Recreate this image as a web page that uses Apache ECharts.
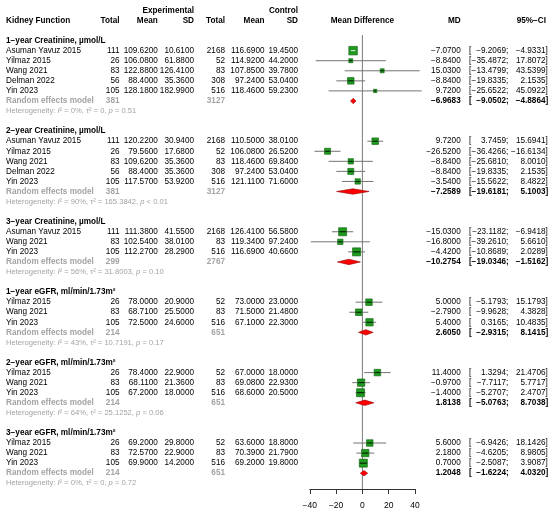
<!DOCTYPE html>
<html>
<head>
<meta charset="utf-8">
<script src="https://cdn.jsdelivr.net/npm/echarts@6/dist/echarts.min.js"></script>
<style>
html,body{margin:0;padding:0;background:#fff;}
#main{width:550px;height:514px;}
</style>
</head>
<body>
<div id="main"></div>
<script>
// ---- data ----
var groupTitles = ['1−year Creatinine, µmol/L', '2−year Creatinine, µmol/L', '3−year Creatinine, µmol/L',
	'1−year eGFR, ml/min/1.73m²', '2−year eGFR, ml/min/1.73m²', '3−year eGFR, ml/min/1.73m²'];
var studyNames = [
	['Asuman Yavuz 2015', 'Yilmaz 2015', 'Wang 2021', 'Delman 2022', 'Yin 2023'],
	['Asuman Yavuz 2015', 'Yilmaz 2015', 'Wang 2021', 'Delman 2022', 'Yin 2023'],
	['Asuman Yavuz 2015', 'Wang 2021', 'Yin 2023'],
	['Yilmaz 2015', 'Wang 2021', 'Yin 2023'],
	['Yilmaz 2015', 'Wang 2021', 'Yin 2023'],
	['Yilmaz 2015', 'Wang 2021', 'Yin 2023']
];
var expTotal = [[111, 26, 83, 56, 105], [111, 26, 83, 56, 105], [111, 83, 105], [26, 83, 105], [26, 83, 105], [26, 83, 105]];
var expMean = [
	[109.62, 106.08, 122.88, 88.40, 128.18],
	[120.22, 79.56, 109.62, 88.40, 117.57],
	[111.38, 102.54, 112.27],
	[78.00, 68.71, 72.50],
	[78.40, 68.11, 67.20],
	[69.20, 72.57, 69.90]
];
var expSD = [
	[10.61, 61.88, 126.41, 35.36, 182.99],
	[30.94, 17.68, 35.36, 35.36, 53.92],
	[41.55, 38.01, 28.29],
	[20.90, 25.50, 24.60],
	[22.90, 21.36, 18.00],
	[29.80, 22.90, 14.20]
];
var ctlTotal = [[2168, 52, 83, 308, 516], [2168, 52, 83, 308, 516], [2168, 83, 516], [52, 83, 516], [52, 83, 516], [52, 83, 516]];
var ctlMean = [
	[116.69, 114.92, 107.85, 97.24, 118.46],
	[110.50, 106.08, 118.46, 97.24, 121.11],
	[126.41, 119.34, 116.69],
	[73.00, 71.50, 67.10],
	[67.00, 69.08, 68.60],
	[63.60, 70.39, 69.20]
];
var ctlSD = [
	[19.45, 44.20, 39.78, 53.04, 59.23],
	[38.01, 26.52, 69.84, 53.04, 71.60],
	[56.58, 97.24, 40.66],
	[23.00, 21.48, 22.30],
	[18.00, 22.93, 20.50],
	[18.80, 21.79, 19.80]
];
var md = [
	[-7.07, -8.84, 15.03, -8.84, 9.72],
	[9.72, -26.52, -8.84, -8.84, -3.54],
	[-15.03, -16.80, -4.42],
	[5.00, -2.79, 5.40],
	[11.40, -0.97, -1.40],
	[5.60, 2.18, 0.70]
];
var ciLow = [
	[-9.2069, -35.4872, -13.4799, -19.8335, -25.6522],
	[3.7459, -36.4266, -25.6810, -19.8335, -15.5622],
	[-23.1182, -39.2610, -10.8689],
	[-5.1793, -9.9628, 0.3165],
	[1.3294, -7.7117, -5.2707],
	[-6.9426, -4.6205, -2.5087]
];
var ciHigh = [
	[-4.9331, 17.8072, 43.5399, 2.1535, 45.0922],
	[15.6941, -16.6134, 8.0010, 2.1535, 8.4822],
	[-6.9418, 5.6610, 2.0289],
	[15.1793, 4.3828, 10.4835],
	[21.4706, 5.7717, 2.4707],
	[18.1426, 8.9805, 3.9087]
];
var poolExpTotal = [381, 381, 299, 214, 214, 214];
var poolCtlTotal = [3127, 3127, 2767, 651, 651, 651];
var poolMD = [-6.9683, -7.2589, -10.2754, 2.6050, 1.8138, 1.2048];
var poolLow = [-9.0502, -19.6181, -19.0346, -2.9315, -5.0763, -1.6224];
var poolHigh = [-4.8864, 5.1003, -1.5162, 8.1415, 8.7038, 4.0320];
var hetI2 = [0, 90, 56, 43, 64, 0];
var hetTau2 = ['0', '165.3842', '31.8003', '10.7191', '25.1252', '0'];
var hetP = ['= 0.51', '< 0.01', '= 0.10', '= 0.17', '= 0.06', '= 0.72'];
var axisTicks = [-40, -20, 0, 20, 40];

// square side in px (style only)
var boxPx = [[8.5, 4, 4, 6.5, 3.3], [6.5, 6, 5.3, 6, 5.3], [8, 5.3, 8], [6.5, 6.5, 7.3], [6.5, 7.3, 8], [6.5, 7.3, 8]];

// ---- layout ----
var FONT = '"Liberation Sans", Arial, Helvetica, sans-serif';
var FS = 8.2;
var COLX = {name: 6, eN: 119.5, eM: 157.8, eS: 194, cN: 225, cM: 264.5, cS: 298, md: 460.7, br: 469, lo: 506, hi: 545.5};
var GREY = '#a3a3a3';

function num(v, d) {
	var s = Math.abs(v).toFixed(d);
	return (v < 0 ? '−' : '') + s;
}

// build row list: k is the line number
var rows = [];
var studyData = [], studyBox = [];
var poolData = [];
var line = 0;
for (var g = 0; g < groupTitles.length; g++) {
	rows.push({k: line++, type: 'title', g: g});
	for (var i = 0; i < studyNames[g].length; i++) {
		rows.push({k: line, type: 'study', g: g, i: i});
		studyData.push([md[g][i], line, ciLow[g][i], ciHigh[g][i]]);
		studyBox.push(boxPx[g][i]);
		line++;
	}
	rows.push({k: line, type: 'pool', g: g});
	poolData.push([poolMD[g], line, poolLow[g], poolHigh[g]]);
	line++;
	rows.push({k: line++, type: 'het', g: g});
	line++;
}
rows.push({k: -3, type: 'head1'});
rows.push({k: -2, type: 'head2'});

function txt(x, y, s, align, opt) {
	opt = opt || {};
	return {
		type: 'text',
		style: {
			x: x, y: y, text: s,
			align: align || 'left', verticalAlign: 'middle',
			fontFamily: FONT, fontSize: opt.size || FS,
			fontWeight: opt.bold ? 'bold' : 'normal',
			fill: opt.color || '#000',
			rich: opt.rich
		}
	};
}

function ciTexts(y, lo, hi, opt) {
	return [
		txt(COLX.br, y, '[', 'left', opt),
		txt(COLX.lo, y, num(lo, 4), 'right', opt),
		txt(COLX.lo, y, ';', 'left', opt),
		txt(COLX.hi, y, num(hi, 4), 'right', opt),
		txt(COLX.hi, y, ']', 'left', opt)
	];
}

function renderTable(params, api) {
	var r = rows[params.dataIndex];
	var y = api.coord([0, api.value(1)])[1];
	var c = [];
	var b = {bold: true};
	if (r.type == 'head1') {
		c.push(txt(COLX.eS, y, 'Experimental', 'right', b));
		c.push(txt(COLX.cS, y, 'Control', 'right', b));
	} else if (r.type == 'head2') {
		c.push(txt(COLX.name, y, 'Kidney Function', 'left', b));
		c.push(txt(COLX.eN, y, 'Total', 'right', b));
		c.push(txt(COLX.eM, y, 'Mean', 'right', b));
		c.push(txt(COLX.eS, y, 'SD', 'right', b));
		c.push(txt(COLX.cN, y, 'Total', 'right', b));
		c.push(txt(COLX.cM, y, 'Mean', 'right', b));
		c.push(txt(COLX.cS, y, 'SD', 'right', b));
		c.push(txt(api.coord([0, 0])[0], y, 'Mean Difference', 'center', b));
		c.push(txt(COLX.md, y, 'MD', 'right', b));
		c.push(txt(COLX.hi + 0.5, y, '95%−CI', 'right', b));
	} else if (r.type == 'title') {
		c.push(txt(COLX.name, y, groupTitles[r.g], 'left', b));
	} else if (r.type == 'study') {
		var g = r.g, i = r.i;
		c.push(txt(COLX.name, y, studyNames[g][i], 'left'));
		c.push(txt(COLX.eN, y, String(expTotal[g][i]), 'right'));
		c.push(txt(COLX.eM, y, expMean[g][i].toFixed(4), 'right'));
		c.push(txt(COLX.eS, y, expSD[g][i].toFixed(4), 'right'));
		c.push(txt(COLX.cN, y, String(ctlTotal[g][i]), 'right'));
		c.push(txt(COLX.cM, y, ctlMean[g][i].toFixed(4), 'right'));
		c.push(txt(COLX.cS, y, ctlSD[g][i].toFixed(4), 'right'));
		c.push(txt(COLX.md, y, num(md[g][i], 4), 'right'));
		c = c.concat(ciTexts(y, ciLow[g][i], ciHigh[g][i]));
	} else if (r.type == 'pool') {
		var gp = {bold: true, color: GREY};
		c.push(txt(COLX.name, y, 'Random effects model', 'left', gp));
		c.push(txt(COLX.eN, y, String(poolExpTotal[r.g]), 'right', gp));
		c.push(txt(COLX.cN, y, String(poolCtlTotal[r.g]), 'right', gp));
		c.push(txt(COLX.md, y, num(poolMD[r.g], 4), 'right', b));
		c = c.concat(ciTexts(y, poolLow[r.g], poolHigh[r.g], b));
	} else if (r.type == 'het') {
		var hs = 7.6;
		var s = 'Heterogeneity: {it|I}² = ' + hetI2[r.g] + '%, τ² = ' + hetTau2[r.g] + ', {it|p} ' + hetP[r.g];
		c.push(txt(COLX.name, y, s, 'left', {
			size: hs, color: GREY,
			rich: {it: {fontStyle: 'italic', fontFamily: FONT, fontSize: hs, fill: GREY}}
		}));
	}
	return {type: 'group', children: c};
}

function renderStudy(params, api) {
	var k = api.value(1);
	var c = api.coord([api.value(0), k]);
	var l = api.coord([api.value(2), k]);
	var r = api.coord([api.value(3), k]);
	var s = studyBox[params.dataIndex];
	var h = s / 2;
	var inside = (l[0] >= c[0] - h && r[0] <= c[0] + h);
	var x1 = Math.max(l[0], c[0] - h), x2 = Math.min(r[0], c[0] + h);
	return {
		type: 'group',
		children: [
			{type: 'line', shape: {x1: l[0], y1: c[1], x2: r[0], y2: c[1]}, style: {stroke: '#737373', lineWidth: 1}},
			{type: 'rect', shape: {x: c[0] - h, y: c[1] - h, width: s, height: s}, style: {fill: '#1f9a1f', stroke: '#156815', lineWidth: 0.7}},
			{type: 'line', shape: {x1: x1 + 0.6, y1: c[1], x2: x2 - 0.6, y2: c[1]}, style: {stroke: inside ? '#ffffff' : '#000000', lineWidth: 0.9}}
		]
	};
}

function renderPool(params, api) {
	var k = api.value(1);
	var c = api.coord([api.value(0), k]);
	var l = api.coord([api.value(2), k]);
	var r = api.coord([api.value(3), k]);
	var hh = 2.7;
	return {
		type: 'polygon',
		shape: {points: [[l[0], c[1]], [c[0], c[1] - hh], [r[0], c[1]], [c[0], c[1] + hh]]},
		style: {fill: '#ff0000', stroke: '#9a0000', lineWidth: 0.6}
	};
}

var myChart = echarts.init(document.getElementById('main'));
var option = {
	animation: false,
	grid: {left: 309.8, right: 135, top: 0.36, bottom: 25, containLabel: false},
	xAxis: {
		type: 'value', min: -40, max: 40, interval: 20,
		axisLine: {show: true, onZero: false, lineStyle: {color: '#333', width: 1}},
		axisTick: {show: true, length: 5, lineStyle: {color: '#333', width: 1}},
		axisLabel: {fontSize: 8.5, fontFamily: FONT, color: '#000', margin: 12,
			formatter: function (v) { return num(v, 0); }},
		splitLine: {show: false}
	},
	yAxis: {type: 'value', inverse: true, min: -4, max: 44.57, show: false},
	series: [
		{
			type: 'line', data: [[0, -0.55], [0, 44.57]], symbol: 'none',
			lineStyle: {color: '#7a7a7a', width: 1}, silent: true, z: 1
		},
		{type: 'custom', renderItem: renderStudy, data: studyData, clip: false, z: 3},
		{type: 'custom', renderItem: renderPool, data: poolData, clip: false, z: 3},
		{type: 'custom', renderItem: renderTable, data: rows.map(function (r) { return [0, r.k]; }), clip: false, z: 4}
	]
};
myChart.setOption(option, true);
</script>
</body>
</html>
